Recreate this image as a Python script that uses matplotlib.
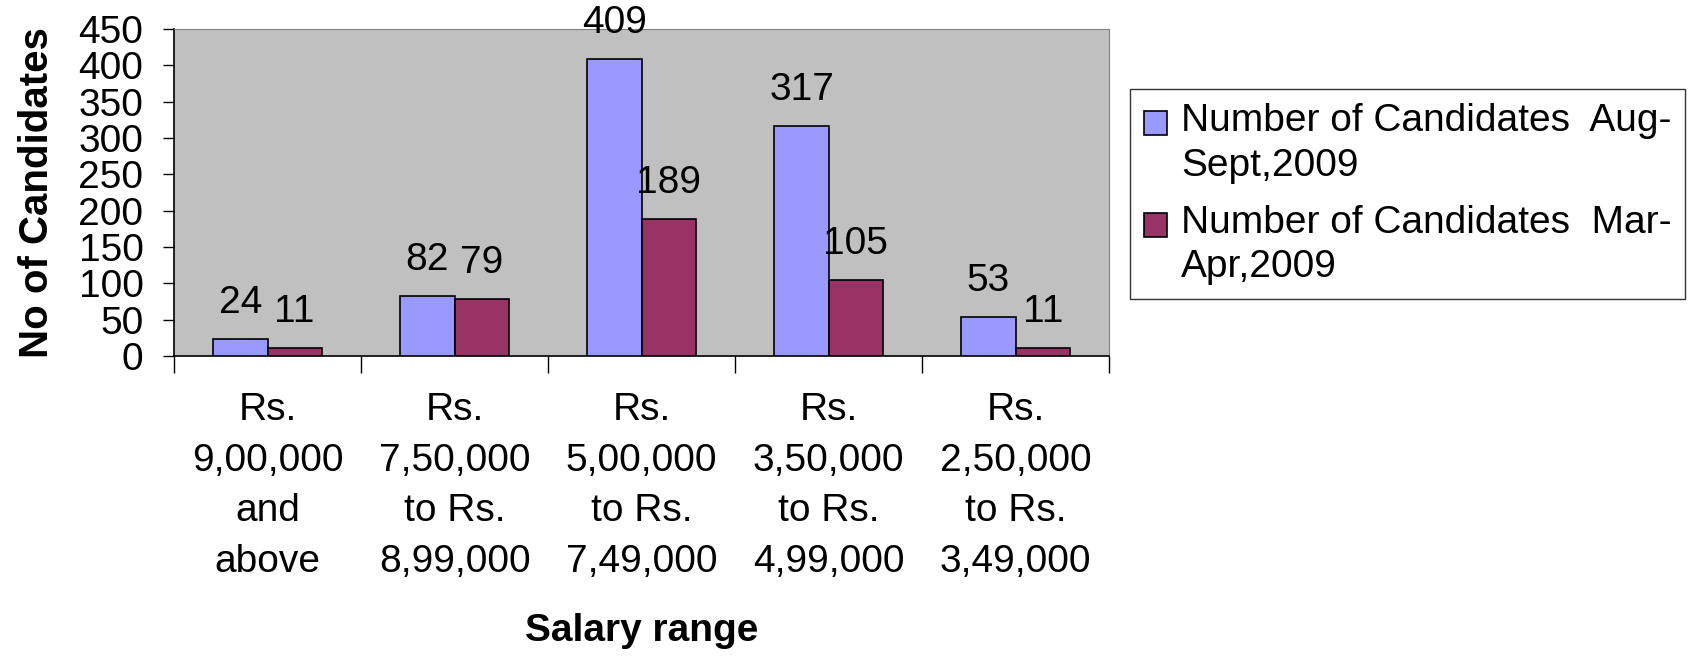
import numpy as np
from matplotlib import pyplot as plt
from matplotlib.patches import Rectangle
from matplotlib.container import BarContainer
from matplotlib.legend_handler import HandlerPatch, update_from_first_child

plt.rcParams['font.family'] = ['Liberation Sans', 'DejaVu Sans']

categories = ['Rs.\n9,00,000\nand\nabove', 'Rs.\n7,50,000\nto Rs.\n8,99,000',
              'Rs.\n5,00,000\nto Rs.\n7,49,000', 'Rs.\n3,50,000\nto Rs.\n4,99,000',
              'Rs.\n2,50,000\nto Rs.\n3,49,000']
aug_sept = [24, 82, 409, 317, 53]
mar_apr = [11, 79, 189, 105, 11]
series_names = ['Number of Candidates  Aug-\nSept,2009', 'Number of Candidates  Mar-\nApr,2009']

fig = plt.figure(figsize=(16.88, 6.56), dpi=100)
ax = fig.add_axes([0.1031, 0.4573, 0.554, 0.4985])
ax.set_facecolor('#C0C0C0')

x = np.arange(len(categories))
w = 0.29
b1 = ax.bar(x - w / 2, aug_sept, w, color='#9999FF', edgecolor='black', linewidth=1.2,
            label=series_names[0], zorder=3)
b2 = ax.bar(x + w / 2, mar_apr, w, color='#993366', edgecolor='black', linewidth=1.2,
            label=series_names[1], zorder=3)
ax.bar_label(b1, padding=13, fontsize=28, clip_on=False)
ax.bar_label(b2, padding=13, fontsize=28, clip_on=False)

ax.set_xlim(-0.5, len(categories) - 0.5)
ax.set_ylim(0, 450)
ax.set_yticks(range(0, 451, 50))
ax.tick_params(axis='y', labelsize=28, length=8, width=1, pad=14)

# category labels sit between boundary ticks
ax.set_xticks(np.arange(-0.5, len(categories), 1.0))
ax.set_xticklabels([])
ax.set_xticks(x, minor=True)
ax.set_xticklabels(categories, minor=True, fontsize=28, linespacing=1.52)
ax.tick_params(axis='x', which='major', length=12, width=1)
ax.tick_params(axis='x', which='minor', length=0, pad=26)

for side in ['top', 'right']:
    ax.spines[side].set_color('#808080')
for side in ['left', 'bottom']:
    ax.spines[side].set_color('black')
    ax.spines[side].set_linewidth(1.2)

ax.set_ylabel('No of Candidates', fontsize=29, fontweight='bold', labelpad=16)
ax.set_xlabel('Salary range', fontsize=28, fontweight='bold', labelpad=24)


# legend square next to the first line of each label, like Excel does
def top_square(legend, orig_handle, xdescent, ydescent, width, height, fontsize):
    return Rectangle((-xdescent, -ydescent + 15), width, height)


leg = fig.legend(loc='upper left', bbox_to_anchor=(0.6696, 0.864), fontsize=28,
                 frameon=True, fancybox=False, edgecolor='black', handlelength=0.58,
                 handleheight=0.58, handletextpad=0.36, borderpad=0.36, labelspacing=0.55,
                 borderaxespad=0,
                 handler_map={BarContainer: HandlerPatch(patch_func=top_square,
                                                         update_func=update_from_first_child)})
leg.get_frame().set_linewidth(1)
for t in leg.get_texts():
    t.set_linespacing(1.3)

plt.savefig('out.png')
